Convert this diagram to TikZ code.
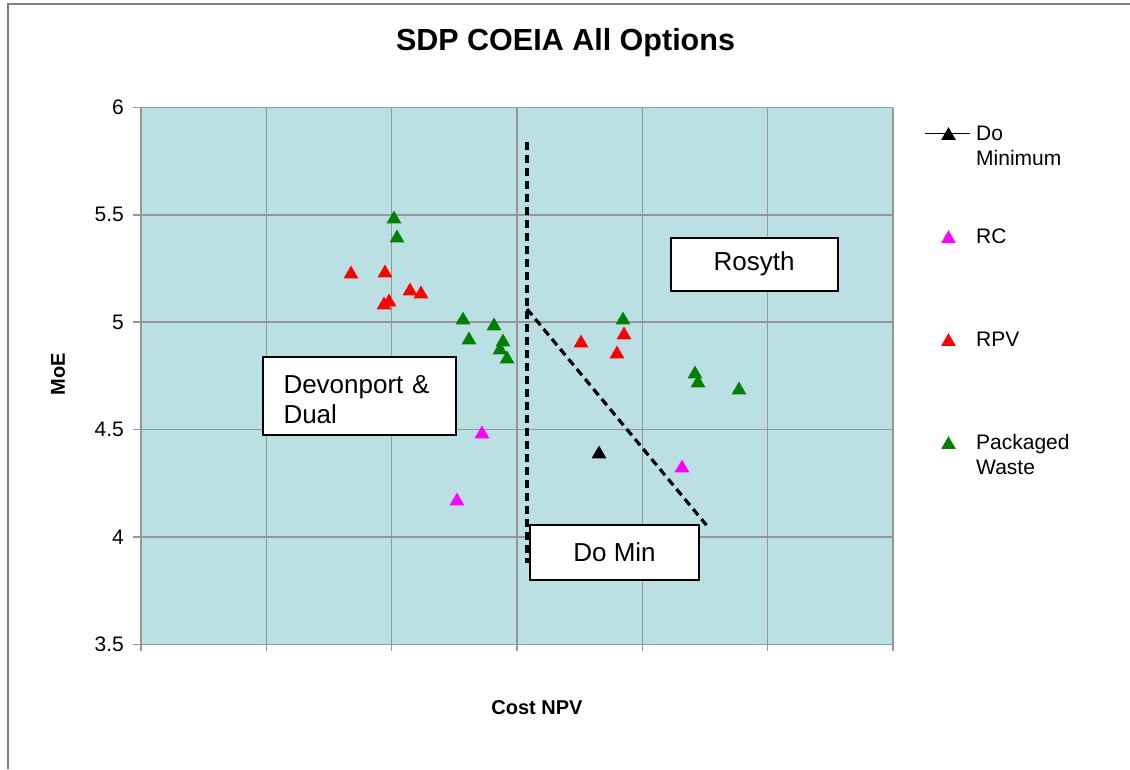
\documentclass[tikz,border=0pt]{standalone}
\usepackage{fontspec}
\setmainfont{Liberation Sans}
\usetikzlibrary{shapes.geometric}
\definecolor{plotbg}{RGB}{187,224,227}
\definecolor{gridgray}{RGB}{150,150,150}
\definecolor{framegray}{RGB}{128,128,128}
\definecolor{mkgreen}{RGB}{0,128,0}
\definecolor{mkred}{RGB}{255,0,0}
\definecolor{mkpink}{RGB}{255,0,255}
\tikzset{
  mk/.style={regular polygon, regular polygon sides=3, minimum size=17pt,
    inner sep=0pt, outer sep=0pt, fill=#1, yshift=-2pt},
  gridline/.style={draw=gridgray, line width=1.6pt},
  ticklab/.style={font=\fontsize{21}{24}\selectfont, inner sep=0pt},
  leglab/.style={font=\fontsize{21}{25}\selectfont, inner sep=0pt, anchor=base west, align=left},
  annbox/.style={draw=black, line width=2pt, fill=white, inner sep=0pt,
    font=\fontsize{26}{30}\selectfont},
  divider/.style={draw=black, line width=3.2pt, dash pattern=on 8pt off 5pt},
}
\begin{document}
\begin{tikzpicture}[x=1pt, y=-1pt]
\useasboundingbox (0,0) rectangle (1130,769);
\fill[white] (0,0) rectangle (1130,769);
% chart frame
\draw[framegray, line width=2pt] (7.5,769) -- (7.5,4) -- (1130,4);

% title
\node[font=\fontsize{30.5}{34}\selectfont\bfseries, anchor=base] (title) at (565.5,50) {SDP COEIA All Options};

% plot area and grid
\fill[plotbg] (141,107.5) rectangle (893,644.3);
\foreach \i in {0,...,6} {
  \draw[gridline] ({141+\i*125.33},107.5) -- ({141+\i*125.33},644.3);
  \draw[gridline] ({141+\i*125.33},644.3) -- ({141+\i*125.33},651);
}
\foreach \j in {0,...,5} {
  \draw[gridline] (141,{107.5+\j*107.36}) -- (893,{107.5+\j*107.36});
  \draw[gridline] (133,{107.5+\j*107.36}) -- (141,{107.5+\j*107.36});
}
\foreach \v [count=\j from 0] in {6,5.5,5,4.5,4,3.5}
  \node[ticklab, anchor=east] (ylab\j) at (124,{107.5+\j*107.36}) {\v};

% axis titles
\node[font=\fontsize{20}{24}\selectfont\bfseries, anchor=base] (xtitle) at (537,714) {Cost NPV};
\node[font=\fontsize{20}{24}\selectfont\bfseries, rotate=90] (ytitle) at (58,374) {MoE};

% dividing lines
\coordinate (v1) at (527,142);
\coordinate (v2) at (527,563);
\coordinate (d1) at (527,309);
\coordinate (d2) at (708,527);
\draw[divider] (v1) -- (v2);
\draw[divider] (d1) -- (d2);

% region labels
\node[annbox, minimum width=193pt, minimum height=78pt, text width=151pt, align=left]
  (devon) at (359,396) {\rule{0pt}{24.6pt}Devonport \&\\Dual};
\node[annbox, minimum width=167pt, minimum height=53pt] (rosyth) at (754,264) {Rosyth};
\node[annbox, minimum width=169pt, minimum height=55pt] (domin) at (614.5,552) {Do Min};

% Packaged Waste
\foreach \x/\y [count=\k] in {394/217, 397/236, 463/318, 469/338, 494/324, 503/340,
    500/348, 507/357, 623/318, 695/372, 698/381, 739/388}
  \node[mk=mkgreen] (pw\k) at (\x,\y) {};
% RPV
\foreach \x/\y [count=\k] in {351/272, 385/271, 384/303, 389/300, 410/289, 421/292,
    581/341, 624/333, 617/352}
  \node[mk=mkred] (rpv\k) at (\x,\y) {};
% RC
\foreach \x/\y [count=\k] in {482/432, 457/499, 682/466}
  \node[mk=mkpink] (rc\k) at (\x,\y) {};
% Do Minimum
\node[mk=black] (dm1) at (599,452) {};

% legend
\coordinate (la) at (925,133.7);
\coordinate (lb) at (970,133.7);
\draw[black, line width=1.5pt] (la) -- (lb);
\node[mk=black] (leg1) at (948.5,133.7) {};
\node[leglab] (legt1) at (976,165.5) {Do\\Minimum};
\node[mk=mkpink] (leg2) at (948.5,236.7) {};
\node[leglab] (legt2) at (976,243.5) {RC};
\node[mk=mkred] (leg3) at (948.5,339.7) {};
\node[leglab] (legt3) at (976,346.5) {RPV};
\node[mk=mkgreen] (leg4) at (948.5,442.7) {};
\node[leglab] (legt4) at (976,474.5) {Packaged\\Waste};
\end{tikzpicture}
\end{document}
